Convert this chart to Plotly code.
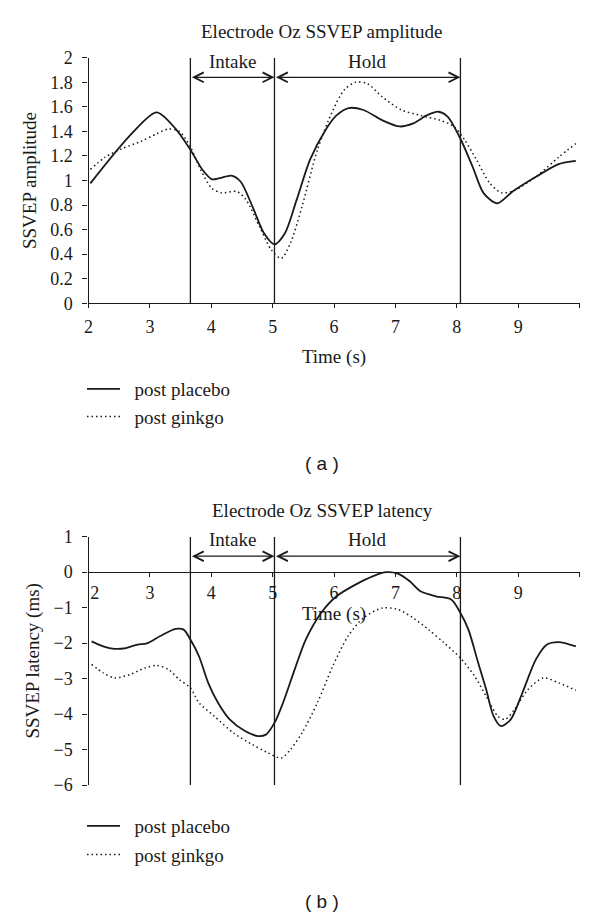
import plotly.graph_objects as go

# ---------------- data ----------------
amp_time_placebo = [2.03, 2.70, 3.11, 3.42, 3.66, 3.86, 4.01, 4.14, 4.33, 4.48, 4.67, 4.86, 5.03,
                    5.20, 5.39, 5.61, 5.86, 6.04, 6.24, 6.48, 6.79, 7.07, 7.29, 7.51, 7.70, 7.85,
                    8.06, 8.26, 8.44, 8.66, 8.91, 9.29, 9.66, 9.94]
amp_placebo = [0.977, 1.38, 1.555, 1.42, 1.25, 1.085, 1.01, 1.02, 1.04, 0.99, 0.79, 0.57, 0.48,
               0.57, 0.84, 1.17, 1.41, 1.53, 1.59, 1.574, 1.49, 1.44, 1.465, 1.53, 1.56, 1.52,
               1.34, 1.11, 0.895, 0.814, 0.91, 1.03, 1.134, 1.16]

amp_time_ginkgo = [2.03, 2.27, 2.55, 2.86, 3.11, 3.30, 3.48, 3.66, 3.83, 4.01, 4.17, 4.42, 4.57,
                   4.79, 4.98, 5.14, 5.29, 5.48, 5.73, 5.98, 6.17, 6.35, 6.54, 6.79, 7.10, 7.41,
                   7.73, 7.95, 8.13, 8.32, 8.54, 8.73, 8.94, 9.29, 9.66, 9.94]
amp_ginkgo = [1.09, 1.19, 1.26, 1.32, 1.38, 1.42, 1.40, 1.275, 1.085, 0.936, 0.90, 0.91, 0.84,
              0.62, 0.434, 0.366, 0.49, 0.79, 1.25, 1.57, 1.74, 1.80, 1.79, 1.68, 1.574, 1.53,
              1.49, 1.44, 1.33, 1.17, 0.977, 0.90, 0.92, 1.03, 1.19, 1.30]

lat_time_placebo = [2.05, 2.24, 2.42, 2.61, 2.80, 2.95, 3.17, 3.42, 3.55, 3.66, 3.80, 3.95, 4.11,
                    4.30, 4.55, 4.76, 4.89, 5.03, 5.17, 5.36, 5.54, 5.79, 6.04, 6.35, 6.64, 6.85,
                    7.04, 7.23, 7.41, 7.66, 7.91, 8.06, 8.19, 8.35, 8.48, 8.60, 8.72, 8.88, 9.07,
                    9.29, 9.47, 9.66, 9.94]
lat_placebo = [-1.95, -2.09, -2.16, -2.14, -2.04, -2.01, -1.80, -1.60, -1.62, -1.90, -2.37, -3.12,
               -3.68, -4.15, -4.48, -4.62, -4.58, -4.25, -3.68, -2.74, -1.90, -1.15, -0.68, -0.35,
               -0.11, 0.0, -0.04, -0.25, -0.54, -0.68, -0.77, -1.15, -1.62, -2.56, -3.31, -4.06,
               -4.34, -4.15, -3.40, -2.46, -2.04, -1.97, -2.09]

lat_time_ginkgo = [2.05, 2.24, 2.42, 2.67, 2.92, 3.11, 3.30, 3.48, 3.66, 3.80, 4.05, 4.36, 4.67,
                   4.92, 5.14, 5.29, 5.48, 5.73, 5.98, 6.23, 6.48, 6.79, 7.04, 7.29, 7.54, 7.79,
                   8.06, 8.29, 8.48, 8.67, 8.79, 8.94, 9.16, 9.41, 9.66, 9.94]
lat_ginkgo = [-2.60, -2.84, -2.98, -2.89, -2.70, -2.63, -2.74, -3.03, -3.26, -3.68, -4.06, -4.53,
              -4.86, -5.09, -5.24, -5.00, -4.53, -3.68, -2.65, -1.80, -1.29, -1.01, -1.05, -1.29,
              -1.62, -1.99, -2.42, -2.93, -3.50, -4.06, -4.15, -3.87, -3.31, -2.98, -3.12, -3.33]

event_times = [3.66, 5.03, 8.06]
phase_labels = ["Intake", "Hold"]
series_names = ["post placebo", "post ginkgo"]

x_ticks = [2, 3, 4, 5, 6, 7, 8, 9, 10]
amp_x_tick_labels = ["2", "3", "4", "5", "6", "7", "8", "9", ""]
lat_x_tick_labels = ["\u2002\u20092", "3", "4", "5", "6", "7", "8", "9", ""]
amp_ticks = [0, 0.2, 0.4, 0.6, 0.8, 1.0, 1.2, 1.4, 1.6, 1.8, 2.0]
amp_tick_labels = ["0", "0.2", "0.4", "0.6", "0.8", "1", "1.2", "1.4", "1.6", "1.8", "2"]
lat_ticks = [-6, -5, -4, -3, -2, -1, 0, 1]

# ---------------- styling ----------------
SERIF = "Liberation Serif"
INK = "#1a1a1a"
PAGE_OFFSET = 8          # default body margin of the html page
W, H = 600 - PAGE_OFFSET, 917 - PAGE_OFFSET
LEGEND_PAD = "\u2002"    # gap between legend line sample and label


def px_x(p):
    """page pixel -> paper fraction"""
    return (p - PAGE_OFFSET) / W


def px_y(p):
    return 1 - (p - PAGE_OFFSET) / H


x_dom = [px_x(88.5), px_x(579.5)]
y1_dom = [px_y(303.3), px_y(57.7)]
y2_dom = [px_y(785.0), px_y(536.7)]
lat_range = [-6, 1]
x2_pos = y2_dom[0] + (y2_dom[1] - y2_dom[0]) * (0 - lat_range[0]) / (lat_range[1] - lat_range[0])

solid = dict(color=INK, width=1.8, shape="spline", smoothing=0.8)
dotted = dict(color=INK, width=1.5, shape="spline", smoothing=0.8, dash="1.5px,3px")

fig = go.Figure()
fig.add_trace(go.Scatter(x=amp_time_placebo, y=amp_placebo, mode="lines", line=solid,
                         name=LEGEND_PAD + series_names[0], xaxis="x", yaxis="y",
                         legend="legend", legendgroup="a1"))
fig.add_trace(go.Scatter(x=amp_time_ginkgo, y=amp_ginkgo, mode="lines", line=dotted,
                         name=LEGEND_PAD + series_names[1], xaxis="x", yaxis="y",
                         legend="legend", legendgroup="a2"))
fig.add_trace(go.Scatter(x=lat_time_placebo, y=lat_placebo, mode="lines", line=solid,
                         name=LEGEND_PAD + series_names[0], xaxis="x2", yaxis="y2",
                         legend="legend2", legendgroup="b1"))
fig.add_trace(go.Scatter(x=lat_time_ginkgo, y=lat_ginkgo, mode="lines", line=dotted,
                         name=LEGEND_PAD + series_names[1], xaxis="x2", yaxis="y2",
                         legend="legend2", legendgroup="b2"))

tickfont = dict(family=SERIF, size=18, color=INK)
common_x = dict(range=[2, 10], tickmode="array", tickvals=x_ticks,
                showline=True, linecolor=INK, linewidth=1.3, ticks="outside", ticklen=4,
                tickwidth=1.2, tickcolor=INK, showgrid=False, zeroline=False, tickfont=tickfont,
                domain=x_dom, automargin=False)
common_y = dict(showline=True, linecolor=INK, linewidth=1.3, ticks="outside", ticklen=5,
                tickwidth=1.2, tickcolor=INK, showgrid=False, zeroline=False, tickfont=tickfont,
                automargin=False, ticklabelstandoff=6)
title_font = dict(family=SERIF, size=19, color=INK)

fig.update_layout(
    width=W, height=H,
    margin=dict(l=0, r=0, t=0, b=0),
    paper_bgcolor="white", plot_bgcolor="white",
    font=dict(family=SERIF, color=INK),
    xaxis=dict(**common_x, anchor="y", ticktext=amp_x_tick_labels, ticklabelstandoff=3,
               title=dict(text="Time (s)", font=title_font, standoff=13)),
    yaxis=dict(**common_y, anchor="x", domain=y1_dom, range=[0, 2], tickmode="array",
               tickvals=amp_ticks, ticktext=amp_tick_labels,
               title=dict(text="SSVEP amplitude", font=title_font, standoff=8)),
    xaxis2=dict(**common_x, anchor="free", position=x2_pos, ticktext=lat_x_tick_labels,
                title=dict(text="Time (s)", font=title_font, standoff=3)),
    yaxis2=dict(**common_y, anchor="x2", domain=y2_dom, range=lat_range, tickmode="array",
                tickvals=lat_ticks,
                title=dict(text="SSVEP latency (ms)", font=title_font, standoff=8)),
    legend=dict(x=px_x(82), y=px_y(370), xanchor="left", yanchor="top",
                font=dict(family=SERIF, size=19, color=INK), bgcolor="rgba(0,0,0,0)",
                tracegroupgap=0, itemwidth=33),
    legend2=dict(x=px_x(82), y=px_y(807), xanchor="left", yanchor="top",
                 font=dict(family=SERIF, size=19, color=INK), bgcolor="rgba(0,0,0,0)",
                 tracegroupgap=1, itemwidth=33),
    showlegend=True,
)

# event lines, phase arrows and labels
panels = [("x", "y", 0, 2, 1.84, 1.97), ("x2", "y2", -6, 1, 0.45, 0.92)]
shapes = []
annotations = []
for xr, yr, y_lo, y_hi, arrow_y, label_y in panels:
    for t in event_times:
        shapes.append(dict(type="line", xref=xr, yref=yr, x0=t, x1=t, y0=y_lo, y1=y_hi,
                           line=dict(color=INK, width=1.3)))
    for i, lab in enumerate(phase_labels):
        t0, t1 = event_times[i], event_times[i + 1]
        annotations.append(dict(xref=xr, yref=yr, x=t1, y=arrow_y, ax=t0, ay=arrow_y,
                                axref=xr, ayref=yr, text="", showarrow=True,
                                arrowhead=5, startarrowhead=5, arrowside="end+start",
                                arrowsize=1.6, startarrowsize=1.6, arrowwidth=1.2,
                                arrowcolor=INK, standoff=0, startstandoff=0))
        annotations.append(dict(xref=xr, yref=yr, x=(t0 + t1) / 2, y=label_y, text=lab,
                                showarrow=False, font=title_font, yanchor="middle"))

paper_texts = [
    ("Electrode Oz SSVEP amplitude", 322, 31.7, SERIF),
    ("Electrode Oz SSVEP latency", 322, 510, SERIF),
    ("( a )", 322, 464, "Liberation Sans"),
    ("( b )", 322, 901, "Liberation Sans"),
]
for txt, px, py, fam in paper_texts:
    annotations.append(dict(xref="paper", yref="paper", x=px_x(px), y=px_y(py), text=txt,
                            showarrow=False, xanchor="center", yanchor="middle",
                            font=dict(family=fam, size=19, color=INK)))

fig.update_layout(shapes=shapes, annotations=annotations)
fig.write_html("out.html")
